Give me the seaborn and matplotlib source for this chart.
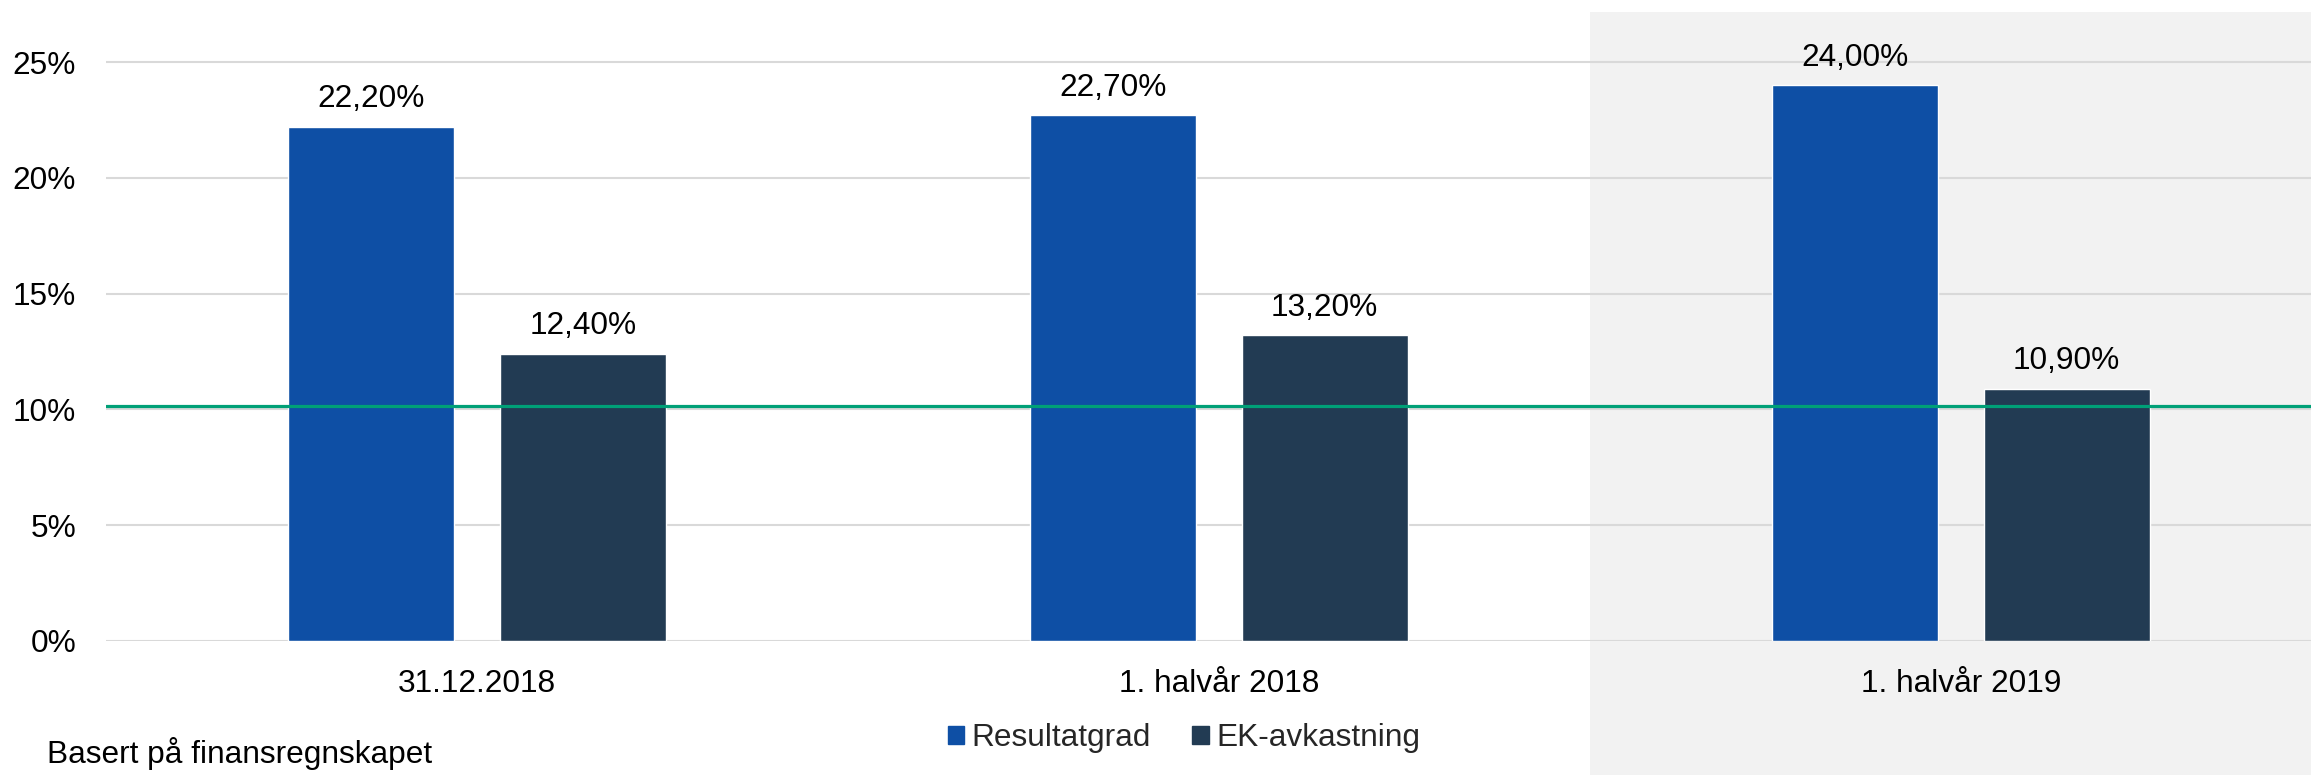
import matplotlib
matplotlib.use("Agg")
import matplotlib.pyplot as plt
import seaborn as sns
import pandas as pd

# Data
periods = ["31.12.2018", "1. halvår 2018", "1. halvår 2019"]
series = ["Resultatgrad", "EK-avkastning"]
resultatgrad = [22.2, 22.7, 24.0]
ek_avkastning = [12.4, 13.2, 10.9]
target_level = 10.15
y_ticks = [0, 5, 10, 15, 20, 25]
footnote = "Basert på finansregnskapet"

colors = ["#0E4FA5", "#223B53"]
line_color = "#00A077"
grid_color = "#D9D9D9"
shade_color = "#F2F2F2"

df = pd.DataFrame({
    "periode": periods * 2,
    "serie": [series[0]] * 3 + [series[1]] * 3,
    "verdi": resultatgrad + ek_avkastning,
})

sns.set_theme(style="white")
plt.rcParams["font.family"] = ["Liberation Sans", "DejaVu Sans"]
fs = 22.8

W, H = 2311, 775
fig = plt.figure(figsize=(W / 100, H / 100), dpi=100)
ax_left, ax_right, ax_top, ax_bottom = 106, W, 12, 641
ax = fig.add_axes([ax_left / W, 1 - ax_bottom / H,
                   (ax_right - ax_left) / W, (ax_bottom - ax_top) / H])
ax.set_facecolor("none")

sns.barplot(data=df, x="periode", y="verdi", hue="serie", hue_order=series,
            palette=colors, width=0.570, gap=0.215, saturation=1,
            ax=ax, legend=False, zorder=3)

unit_px = 742
x_max = (ax_right - ax_left) / unit_px - 0.5
ax.set_xlim(-0.5, x_max)
px_per_pct = 115.8 / 5
ax.set_ylim(0, (ax_bottom - ax_top) / px_per_pct)

# Shaded highlight behind the latest period
ax.axvspan(1.5, x_max, ymin=-(H - ax_bottom) / (ax_bottom - ax_top), ymax=1,
           color=shade_color, zorder=0, clip_on=False, lw=0)

# Grid lines
ax.set_yticks(y_ticks)
ax.set_yticklabels([f"{t}%" for t in y_ticks])
for t in y_ticks:
    ax.axhline(t, color=grid_color, lw=1.5, zorder=1)

# Target line
ax.axhline(target_level, color=line_color, lw=2.3, zorder=4)

# Value labels
for cont in ax.containers:
    labels = [f"{b.get_height():.2f}%".replace(".", ",") for b in cont]
    ax.bar_label(cont, labels=labels, padding=9, fontsize=fs, color="black")

for s in ax.spines.values():
    s.set_visible(False)
ax.set_xlabel("")
ax.set_ylabel("")
ax.tick_params(axis="x", length=0, pad=20, labelsize=fs, colors="black")
ax.tick_params(axis="y", length=0, pad=21.5, labelsize=fs, colors="black")

handles = [plt.Rectangle((0, 0), 1, 1, color=c) for c in colors]
fig.legend(handles, series, loc="center", bbox_to_anchor=(1184 / W, 1 - 738 / H),
           ncol=2, frameon=False, fontsize=fs, handlelength=0.52,
           handleheight=0.52, handletextpad=0.23, columnspacing=1.3)

fig.text(47 / W, 1 - 763 / H, footnote, fontsize=fs, color="black",
         ha="left", va="baseline")

fig.savefig("out.png", dpi=100, facecolor="white")
